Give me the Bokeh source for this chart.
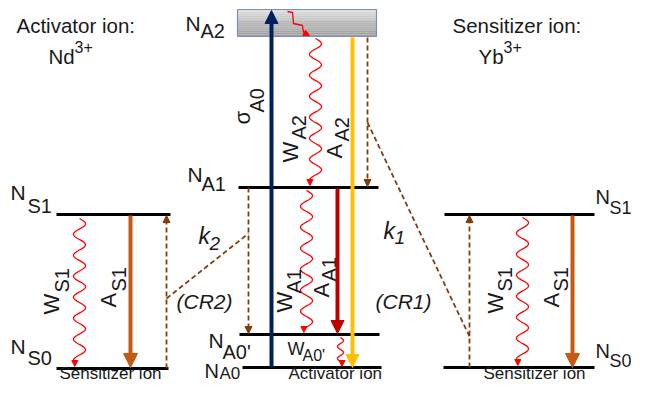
import numpy as np
from bokeh.plotting import figure
from bokeh.models import Range1d, Arrow, NormalHead, ColumnDataSource
from bokeh.core.properties import value
from bokeh.embed import file_html
from bokeh.resources import INLINE

# ---------------- data (diagram coordinates, y grows downward) ----------------
# energy levels
level_names = ["N_S1 (Yb, left)", "N_S0 (Yb, left)", "N_A1", "N_A0'", "N_A0", "N_S1 (Yb, right)", "N_S0 (Yb, right)"]
level_y = [214, 368, 187, 334, 367, 214, 367]
level_x0 = [56, 56, 238, 239, 242, 444, 443]
level_x1 = [170, 168, 378, 379, 381, 594, 594]

# N_A2 band (box)
band_x = [237, 376]
band_y = [9, 36]

# radiative / pump transitions (solid arrows)
rad_names = ["sigma_A0", "A_A2", "A_A1", "A_S1 left", "A_S1 right"]
rad_x = [271, 352, 337, 130, 572]
rad_y0 = [367, 37, 188, 215, 215]
rad_y1 = [10, 367, 333, 367, 367]
rad_color = ["#002060", "#FFC000", "#C00000", "#C55A11", "#C55A11"]
rad_head = [13, 13, 13, 14, 14]

# energy-transfer transitions (dashed arrows)
dash_x = [166, 248, 367, 469]
dash_y0 = [368, 187, 37, 367]
dash_y1 = [215, 333, 186, 215]

# cross-relaxation connectors (dashed lines)
cr_x0 = [166, 367]
cr_y0 = [298, 122]
cr_x1 = [248, 469]
cr_y1 = [233, 336]

# non-radiative decays (wavy arrows)
wave_x = [79, 522, 315, 306, 340]
wave_y0 = [218, 217, 38, 190, 337]
wave_y1 = [366, 365, 185, 332, 366]
wave_amp = [6, 6, 6, 6, 3]
wave_len = [21, 21, 21, 21, 12]

# relaxation inside the N_A2 band
step_x = [287, 292, 293, 302, 303, 309]
step_y = [11, 12, 23, 25, 32, 35]

# horizontal labels: text, x, baseline y (visual), size
h_text = ["Activator ion:", "Nd", "3+", "Sensitizer ion:", "Yb", "3+",
          "Sensitizer ion", "Activator ion", "Sensitizer ion",
          "N", "A2", "N", "A1", "N", "A0'", "N", "A0",
          "N", "S1", "N", "S0", "N", "S1", "N", "S0",
          "W", "A0'"]
h_x = [16, 48, 74, 452, 478, 503,
       59, 288, 483,
       185, 200, 187, 201, 208, 222, 204, 219,
       10, 27, 10, 27, 595, 609, 595, 609,
       287, 302]
h_y = [32, 63, 53, 32, 63, 53,
       380, 380, 380,
       30, 37, 181, 190, 347, 358, 377, 380,
       199, 212, 353, 364, 203, 214, 357, 367,
       355, 362]
h_size = [20.5, 20.5, 16, 20.5, 20.5, 16,
          17, 17, 17,
          21, 20, 21, 20, 21, 20, 20, 17,
          21, 20, 21, 20, 20, 18, 20, 18,
          18, 16]

# italic labels
i_text = ["k", "2", "k", "1", "(CR2)", "(CR1)"]
i_x = [198, 209, 383, 394, 176, 375]
i_y = [242, 250, 237, 244, 308, 308]
i_size = [23, 19, 23, 19, 21, 21]

# rotated labels (reading upward): text, baseline x (visual), start y, size
r_text = ["σ", "A0", "W", "A2", "A", "A2",
          "W", "S1", "A", "S1", "W", "S1", "A", "S1",
          "W", "A1", "A", "A1"]
r_x = [249, 263, 297, 305, 341, 348,
       58, 68, 115, 125, 502, 511, 558, 567,
       291, 300, 328, 335]
r_y = [124, 112, 162, 139, 158, 141,
       314, 292, 307, 291, 313, 291, 307, 291,
       312, 293, 297, 281]
r_size = [22, 20, 22, 20, 22, 20,
          22, 20, 22, 20, 22, 20, 22, 20,
          22, 20, 22, 20]

# ---------------- figure ----------------
W, H = 631, 384
TEXT_SHIFT = 7  # rendered glyphs sit this far below the requested baseline

p = figure(width=W, height=H, output_backend="svg", toolbar_location=None,
           x_range=Range1d(0, W), y_range=Range1d(H, 0), min_border=0)
p.axis.visible = False
p.grid.visible = False
p.outline_line_color = None
p.background_fill_color = "white"

FONT = "Liberation Sans"

# band gradient (light top -> darker bottom)
n_strips = 14
edges = np.linspace(band_y[0], band_y[1], n_strips + 1)
shades = np.linspace(220, 158, n_strips).astype(int)
cols = ["#%02x%02x%02x" % (s, s, s) for s in shades]
p.quad(left=[band_x[0]] * n_strips, right=[band_x[1]] * n_strips,
       top=list(edges[:-1]), bottom=list(edges[1:]), fill_color=cols, line_color=None)
p.quad(left=[band_x[0]], right=[band_x[1]], top=[band_y[0]], bottom=[band_y[1]],
       fill_color=None, line_color="#7a8fb5", line_width=1.2)

# levels
p.segment(x0=level_x0, y0=level_y, x1=level_x1, y1=level_y, line_color="black", line_width=3)

# cross relaxation dashed lines
p.segment(x0=cr_x0, y0=cr_y0, x1=cr_x1, y1=cr_y1, line_color="#843C0C",
          line_width=1.8, line_dash="5 3")

# dashed arrows
for x, y0, y1 in zip(dash_x, dash_y0, dash_y1):
    p.add_layout(Arrow(end=NormalHead(size=7, fill_color="#843C0C", line_color="#843C0C"),
                       x_start=x, y_start=y0, x_end=x, y_end=y1,
                       line_color="#843C0C", line_width=1.8, line_dash="5 3"))

# waves
for x, y0, y1, a, wl in zip(wave_x, wave_y0, wave_y1, wave_amp, wave_len):
    yy = np.linspace(y0, y1 - 4, 300)
    xx = x + a * np.sin(2 * np.pi * (yy - y0) / wl)
    p.line(xx, yy, line_color="#FF0000", line_width=1.3)
    p.add_layout(Arrow(end=NormalHead(size=6, fill_color="#FF0000", line_color="#FF0000"),
                       x_start=xx[-1], y_start=y1 - 5, x_end=xx[-1], y_end=y1,
                       line_color="#FF0000", line_width=1.3))

# step relaxation inside band
p.line(step_x[:-1], step_y[:-1], line_color="#FF0000", line_width=1.3)
p.add_layout(Arrow(end=NormalHead(size=6, fill_color="#FF0000", line_color="#FF0000"),
                   x_start=step_x[-2], y_start=step_y[-2], x_end=step_x[-1], y_end=step_y[-1],
                   line_color="#FF0000", line_width=1.3))

# solid arrows
for x, y0, y1, c, h in zip(rad_x, rad_y0, rad_y1, rad_color, rad_head):
    p.add_layout(Arrow(end=NormalHead(size=h, fill_color=c, line_color=c),
                       x_start=x, y_start=y0, x_end=x, y_end=y1,
                       line_color=c, line_width=4))

# texts
src_h = ColumnDataSource(dict(t=h_text, x=h_x, y=[v - TEXT_SHIFT for v in h_y],
                              s=["%gpx" % s for s in h_size]))
p.text(x="x", y="y", text="t", source=src_h, text_font=value(FONT), text_font_size="s",
       text_baseline="alphabetic", text_align="left", text_color="#1a1a1a")

src_i = ColumnDataSource(dict(t=i_text, x=i_x, y=[v - TEXT_SHIFT for v in i_y],
                              s=["%gpx" % s for s in i_size]))
p.text(x="x", y="y", text="t", source=src_i, text_font=value(FONT), text_font_size="s",
       text_font_style="italic", text_baseline="alphabetic", text_align="left", text_color="#1a1a1a")

src_r = ColumnDataSource(dict(t=r_text, x=[v - TEXT_SHIFT for v in r_x], y=r_y,
                              s=["%gpx" % s for s in r_size]))
p.text(x="x", y="y", text="t", source=src_r, text_font=value(FONT), text_font_size="s",
       angle=np.pi / 2, text_baseline="alphabetic", text_align="left", text_color="#1a1a1a")

open("out.html", "w").write(file_html(p, INLINE))
